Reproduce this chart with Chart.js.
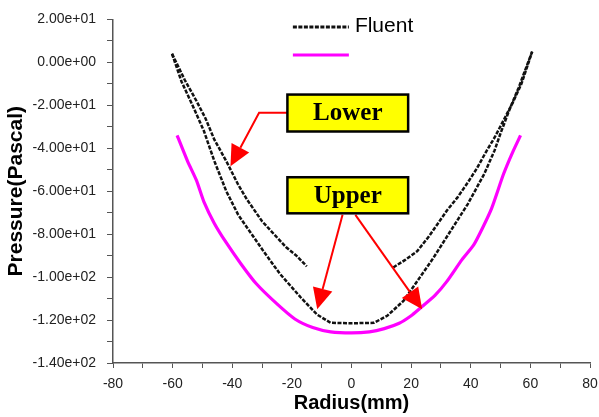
<!DOCTYPE html>
<html>
<head>
<meta charset="utf-8">
<script src="https://cdn.jsdelivr.net/npm/chart.js@4.4.0/dist/chart.umd.min.js"></script>
<style>
  body { margin: 0; background: #fff; }
</style>
</head>
<body>
<canvas id="myChart" width="599" height="417"></canvas>
<script>
// radius (mm) / pressure (Pa)
const innerX = [-60.2, -57, -53, -49.5, -46, -42, -38, -35, -29.5, -24, -17, -11.5, -7, 0, 7.5, 12, 17.5, 23, 27.5, 33, 39, 44.5, 48, 50, 53, 56, 60.6];
const innerY = [4, -9, -21, -32, -46, -60, -71, -77, -88, -98.5, -109.5, -117.5, -121.3, -121.5, -121.3, -118, -111, -100, -91, -79, -66, -52, -41, -33, -22, -12, 5];

const outerLeftX = [-60.2, -56, -52, -49, -46, -42, -38, -35, -30, -26, -22, -18.5, -15];
const outerLeftY = [4, -8, -18, -26, -36, -46, -57, -64, -74, -80, -86, -90, -95];
const outerRightX = [14, 18, 22, 26, 29, 32, 35.5, 39, 42, 45, 48, 51, 54, 57, 60.6];
const outerRightY = [-95.5, -92, -88, -81, -75, -69, -63, -56, -49.5, -42, -35, -27, -19, -10, 5];

const pinkX = [-58.5, -55, -52, -49.5, -46, -42, -37, -32, -25, -19, -13, -7, 0, 6, 11, 16, 20, 23, 28, 32, 37, 41, 44, 47, 51, 54, 56.7];
const pinkY = [-34, -46, -55, -65, -75, -84, -94, -103, -112.5, -119.5, -123.5, -125.5, -126, -125.5, -124, -121.5, -118, -114.5, -108.5, -102, -92, -85, -77, -68, -52, -42, -34];

const legendLabels = ["Fluent", ""];

function pts(xs, ys) {
  return xs.map((x, i) => ({ x: x, y: ys[i] }));
}

// outer curve has a gap in the middle
const outerData = pts(outerLeftX, outerLeftY).concat([{ x: 0, y: null }], pts(outerRightX, outerRightY));

function sci(v) {
  if (v === 0) return "0.00e+00";
  var e = Math.floor(Math.log10(Math.abs(v)) + 1e-9);
  var m = v / Math.pow(10, e);
  return m.toFixed(2) + "e" + (e < 0 ? "-" : "+") + String(Math.abs(e)).padStart(2, "0");
}

// callout boxes and arrows, in data units
const notes = [
  { text: "Lower", x0: -21.5, x1: 19, y0: -15, y1: -32.2 },
  { text: "Upper", x0: -21.5, x1: 19, y0: -53.5, y1: -70.3 },
];
const arrows = [
  [[-21.5, -23.5], [-31, -23.5], [-40.6, -48.4]],
  [[-3, -71], [-11.5, -115]],
  [[1.3, -71], [23.7, -115]],
];

const calloutPlugin = {
  id: "callouts",
  afterDraw(chart) {
    const ctx = chart.ctx;
    const xs = chart.scales.x, ys = chart.scales.y;
    ctx.save();
    // legend
    const ds = chart.data.datasets;
    const lx = xs.getPixelForValue(-20);
    [[0, 27], [2, 55]].forEach(function (it, i) {
      const d = ds[it[0]];
      ctx.strokeStyle = d.borderColor;
      ctx.lineWidth = 3;
      ctx.setLineDash(d.borderDash || []);
      ctx.beginPath();
      ctx.moveTo(lx + 1, it[1]);
      ctx.lineTo(lx + 57, it[1]);
      ctx.stroke();
      ctx.setLineDash([]);
      ctx.fillStyle = "#000";
      ctx.font = "21px 'Liberation Sans', Arial, sans-serif";
      ctx.textBaseline = "middle";
      ctx.fillText(legendLabels[i], lx + 63, it[1] - 1);
    });
    // arrows
    ctx.strokeStyle = "#ff0000";
    ctx.fillStyle = "#ff0000";
    ctx.lineWidth = 2;
    arrows.forEach(function (a) {
      const p = a.map(q => [xs.getPixelForValue(q[0]), ys.getPixelForValue(q[1])]);
      const n = p.length;
      const tip = p[n - 1], prev = p[n - 2];
      const ang = Math.atan2(tip[1] - prev[1], tip[0] - prev[0]);
      const len = 21, hw = 10;
      const bx = tip[0] - len * Math.cos(ang), by = tip[1] - len * Math.sin(ang);
      ctx.beginPath();
      ctx.moveTo(p[0][0], p[0][1]);
      for (let i = 1; i < n - 1; i++) ctx.lineTo(p[i][0], p[i][1]);
      ctx.lineTo(bx, by);
      ctx.stroke();
      ctx.beginPath();
      ctx.moveTo(tip[0], tip[1]);
      ctx.lineTo(bx + hw * Math.sin(ang), by - hw * Math.cos(ang));
      ctx.lineTo(bx - hw * Math.sin(ang), by + hw * Math.cos(ang));
      ctx.closePath();
      ctx.fill();
    });
    // boxes
    notes.forEach(function (b) {
      const x0 = xs.getPixelForValue(b.x0), x1 = xs.getPixelForValue(b.x1);
      const y0 = ys.getPixelForValue(b.y0), y1 = ys.getPixelForValue(b.y1);
      ctx.fillStyle = "#ffff00";
      ctx.fillRect(x0, y0, x1 - x0, y1 - y0);
      ctx.strokeStyle = "#000";
      ctx.lineWidth = 2.5;
      ctx.strokeRect(x0, y0, x1 - x0, y1 - y0);
      ctx.fillStyle = "#000";
      ctx.font = "bold 25px 'Liberation Serif', 'Times New Roman', serif";
      ctx.textAlign = "center";
      ctx.textBaseline = "middle";
      ctx.fillText(b.text, (x0 + x1) / 2, (y0 + y1) / 2 + 1);
      ctx.textAlign = "left";
    });
    ctx.restore();
  },
};

const ctx = document.getElementById("myChart");

const tickFont = { family: "'Liberation Sans', Arial, sans-serif", size: 14 };

const chart = new Chart(ctx, {
  type: "line",
  data: {
    datasets: [
      {
        label: legendLabels[0],
        data: pts(innerX, innerY),
        borderColor: "#111",
        borderWidth: 2.5,
        borderDash: [4, 1.5],
        pointRadius: 0,
        tension: 0,
      },
      {
        label: legendLabels[0],
        data: outerData,
        borderColor: "#111",
        borderWidth: 2.5,
        borderDash: [4, 1.5],
        pointRadius: 0,
        spanGaps: false,
        tension: 0,
      },
      {
        label: legendLabels[1],
        data: pts(pinkX, pinkY),
        borderColor: "#ff00ff",
        borderWidth: 3.2,
        pointRadius: 0,
        tension: 0.2,
      },
    ],
  },
  options: {
    responsive: false,
    animation: false,
    layout: { padding: { left: 0, right: 9, top: 18, bottom: 0 } },
    plugins: {
      legend: { display: false },
      tooltip: { enabled: false },
    },
    scales: {
      x: {
        type: "linear",
        min: -80,
        max: 80,
        afterFit: function (s) {
          s.height = 54;
          s.paddingLeft = 0;
          s.paddingRight = 0;
        },
        border: { display: true, color: "#555", width: 1.5 },
        grid: { drawOnChartArea: false, drawTicks: true, tickLength: 5, color: "#555" },
        ticks: {
          stepSize: 10,
          autoSkip: false,
          maxRotation: 0,
          padding: 8,
          color: "#222",
          font: tickFont,
          callback: function (v) { return v % 20 === 0 ? String(v) : ""; },
        },
        title: {
          display: true,
          text: "Radius(mm)",
          color: "#000",
          font: { family: "'Liberation Sans', Arial, sans-serif", size: 20, weight: "bold" },
          padding: { top: 0, bottom: 2 },
        },
      },
      y: {
        min: -140,
        max: 20,
        afterFit: function (s) { s.width = 113; },
        border: { display: true, color: "#555", width: 1.5 },
        grid: { drawOnChartArea: false, drawTicks: true, tickLength: 6, color: "#555" },
        ticks: {
          stepSize: 10,
          autoSkip: false,
          padding: 11,
          color: "#222",
          font: tickFont,
          callback: function (v) { return v % 20 === 0 ? sci(v) : ""; },
        },
        title: {
          display: true,
          text: "Pressure(Pascal)",
          color: "#000",
          font: { family: "'Liberation Sans', Arial, sans-serif", size: 21, weight: "bold" },
          padding: { top: 4, bottom: 0 },
        },
      },
    },
  },
  plugins: [calloutPlugin],
});
</script>
</body>
</html>
